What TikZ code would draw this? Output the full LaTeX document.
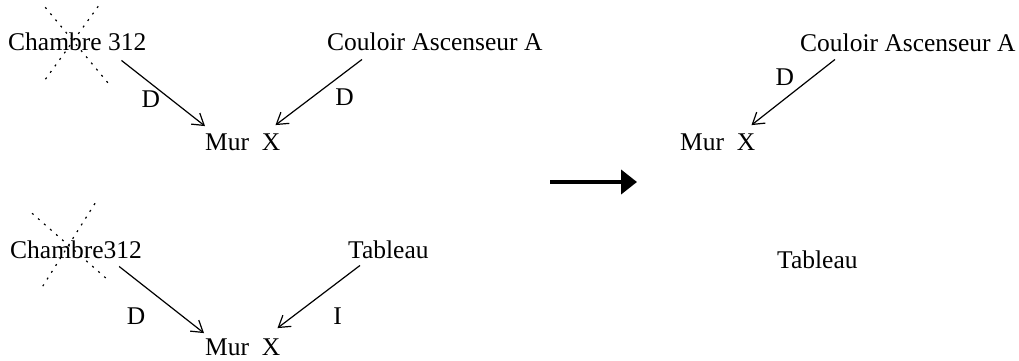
\documentclass[tikz,border=0pt]{standalone}
\usepackage{fontspec}
\setmainfont{Liberation Serif}
\usetikzlibrary{calc,arrows.meta}

\begin{document}
\begin{tikzpicture}[
    x=1pt, y=-1pt,                       % one unit per pixel, y downwards
    every node/.style={
        inner sep=0pt,
        font=\fontsize{25.5}{30}\selectfont
    },
    place/.style={anchor=base west},
    lbl/.style={},
    rel/.style={draw, line width=1.2pt, -{Straight Barb[length=11pt,width=14pt]}},
    rature/.style={draw, line width=1.2pt, dash pattern=on 2pt off 6pt},
    fleche/.style={draw, line width=4pt, -{Triangle[length=16pt,width=24pt]}}
]
\useasboundingbox (0,0) rectangle (1019,361);

% situation 1 : top left
\node[place] (ch1) at (8,51) {Chambre 312};
\node[place] (cou1) at (327,51) {Couloir Ascenseur A};
\node[place] (mur1) at (205,150) {Mur~~X};

\draw[rel] ($(ch1.south east)+(-25,9)$) -- node[lbl, pos=.35, below=7pt] {D} ($(mur1.north west)+(0,-7)$);
\draw[rel] ($(cou1.south west)+(35,8)$) -- node[lbl, pos=.2, below=16pt] {D} ($(mur1.north east)+(-5,-8)$);

% crossed out
\draw[rature] ($(ch1.center)+(-32,-35)$) -- ($(ch1.center)+(31,41)$);
\draw[rature] ($(ch1.center)+(21,-36)$) -- ($(ch1.center)+(-34,40)$);

% situation 2 : bottom left
\node[place] (ch2) at (10,258) {Chambre312};
\node[place] (tab2) at (348,258) {Tableau};
\node[place] (mur2) at (205,355) {Mur~~X};

\draw[rel] ($(ch2.south east)+(-23,8)$) -- node[lbl, pos=.2, below=27pt] {D} ($(mur2.north west)+(-1,-5)$);
\draw[rel] ($(tab2.south west)+(12,7)$) -- node[lbl, pos=.27, below=25pt] {I} ($(mur2.north east)+(-3,-10)$);

\draw[rature] ($(ch2.center)+(-44,-36)$) -- ($(ch2.center)+(30,29)$);
\draw[rature] ($(ch2.center)+(19,-46)$) -- ($(ch2.center)+(-34,38)$);

% transition
\coordinate (avant) at (550,182);
\coordinate (apres) at (637,182);
\draw[fleche] (avant) -- (apres);

% result : right
\node[place] (cou3) at (800,52) {Couloir Ascenseur A};
\node[place] (mur3) at (680,150) {Mur~~X};
\node[place] (tab3) at (777,268) {Tableau};

\draw[rel] ($(cou3.south west)+(35,7)$) -- node[lbl, pos=.6, above=13pt] {D} ($(mur3.north east)+(-4,-8)$);

\end{tikzpicture}
\end{document}
